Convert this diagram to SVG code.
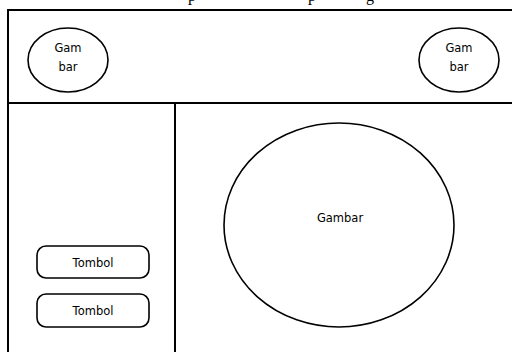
<svg xmlns="http://www.w3.org/2000/svg" width="512" height="352" viewBox="0 0 512 352">
<style>
.ln{fill:none;stroke:#000;stroke-width:2}
.sh{fill:#fff;stroke:#000;stroke-width:1.6}
.t{font-family:"DejaVu Sans",Verdana,sans-serif;font-size:11.5px;fill:#000;text-anchor:middle}
.cap{font-family:"Liberation Serif","Times New Roman",serif;font-size:16px;fill:#000}
</style>
<rect width="512" height="352" fill="#fff"/>
<text class="cap" x="188 308 366" y="0.5">ppg</text>
<g id="frame">
<path class="ln" d="M8,360 V10 H514"/>
<path class="ln" d="M8,103 H514"/>
<path class="ln" d="M175,103 V360"/>
</g>
<g id="img-left">
<ellipse class="sh" cx="68" cy="60" rx="40" ry="32"/>
<text class="t" x="68" y="52">Gam</text>
<text class="t" x="68" y="71">bar</text>
</g>
<g id="img-right">
<ellipse class="sh" cx="459" cy="60" rx="40" ry="32"/>
<text class="t" x="459" y="52">Gam</text>
<text class="t" x="459" y="71">bar</text>
</g>
<g id="img-main">
<ellipse class="sh" cx="339" cy="225" rx="115" ry="102"/>
<text class="t" x="340" y="222">Gambar</text>
</g>
<g id="btn1">
<rect class="sh" x="37" y="246" width="112" height="32" rx="9"/>
<text class="t" x="93" y="267">Tombol</text>
</g>
<g id="btn2">
<rect class="sh" x="37" y="294" width="112" height="33" rx="9"/>
<text class="t" x="93" y="315">Tombol</text>
</g>
<g id="connectors"></g>
</svg>
